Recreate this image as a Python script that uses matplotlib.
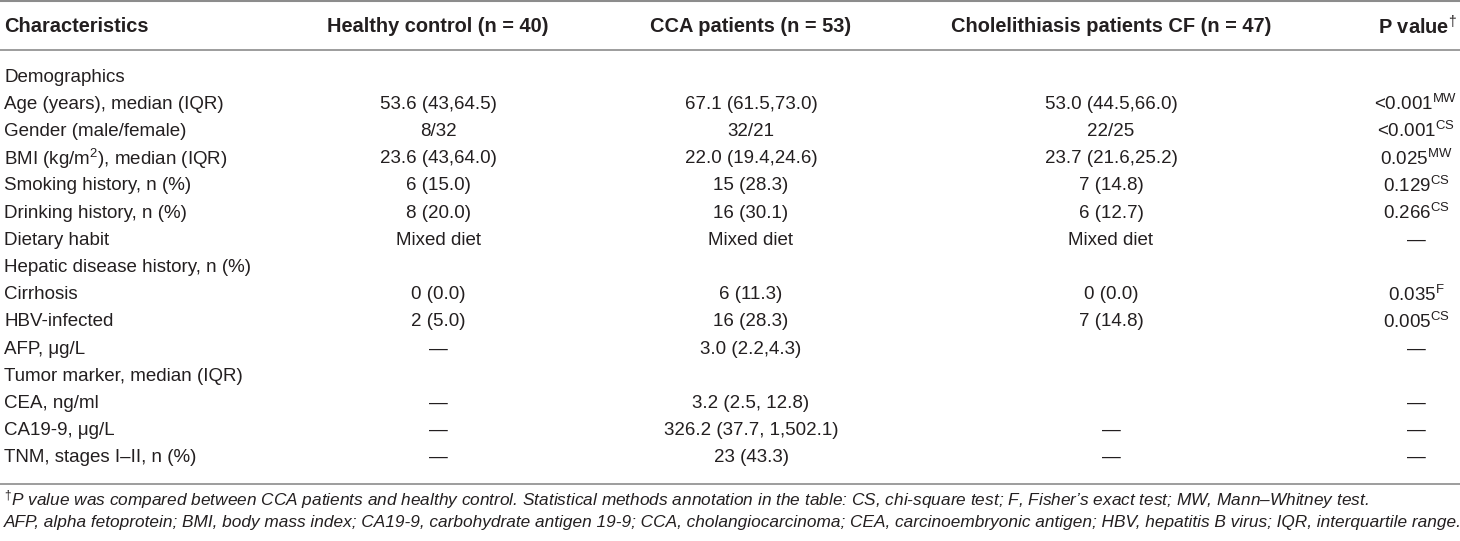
import matplotlib.pyplot as plt

plt.rcParams["font.family"] = ["Liberation Sans", "DejaVu Sans"]
plt.rcParams["mathtext.fontset"] = "custom"
plt.rcParams["mathtext.rm"] = "Liberation Sans"
plt.rcParams["mathtext.it"] = "Liberation Sans:italic"
plt.rcParams["mathtext.bf"] = "Liberation Sans:bold"
plt.rcParams["mathtext.default"] = "rm"

headers = ["Characteristics", "Healthy control (n = 40)", "CCA patients (n = 53)",
           "Cholelithiasis patients CF (n = 47)", "P value$^{†}$"]

characteristics = [
    "Demographics",
    "Age (years), median (IQR)",
    "Gender (male/female)",
    "BMI (kg/m$^{2}$), median (IQR)",
    "Smoking history, n (%)",
    "Drinking history, n (%)",
    "Dietary habit",
    "Hepatic disease history, n (%)",
    "Cirrhosis",
    "HBV-infected",
    "AFP, μg/L",
    "Tumor marker, median (IQR)",
    "CEA, ng/ml",
    "CA19-9, μg/L",
    "TNM, stages I–II, n (%)",
]
healthy = ["", "53.6 (43,64.5)", "8/32", "23.6 (43,64.0)", "6 (15.0)", "8 (20.0)",
           "Mixed diet", "", "0 (0.0)", "2 (5.0)", "—", "", "—", "—", "—"]
cca = ["", "67.1 (61.5,73.0)", "32/21", "22.0 (19.4,24.6)", "15 (28.3)", "16 (30.1)",
       "Mixed diet", "", "6 (11.3)", "16 (28.3)", "3.0 (2.2,4.3)", "",
       "3.2 (2.5, 12.8)", "326.2 (37.7, 1,502.1)", "23 (43.3)"]
chole = ["", "53.0 (44.5,66.0)", "22/25", "23.7 (21.6,25.2)", "7 (14.8)", "6 (12.7)",
         "Mixed diet", "", "0 (0.0)", "7 (14.8)", "", "", "", "—", "—"]
pvals = ["", "<0.001", "<0.001", "0.025", "0.129", "0.266", "—", "", "0.035", "0.005",
         "—", "", "—", "—", "—"]
ptests = ["", "MW", "CS", "MW", "CS", "CS", "", "", "F", "CS", "", "", "", "", ""]

footnotes = [
    "$^{†}$P value was compared between CCA patients and healthy control. Statistical methods "
    "annotation in the table: CS, chi-square test; F, Fisher’s exact test; MW, Mann–Whitney test.",
    "AFP, alpha fetoprotein; BMI, body mass index; CA19-9, carbohydrate antigen 19-9; CCA, "
    "cholangiocarcinoma; CEA, carcinoembryonic antigen; HBV, hepatitis B virus; IQR, interquartile range.",
]

txt = "#231f20"
rule = "#8c8c8c"
fs = 13.5
fs_head = 14.4

fig = plt.figure(figsize=(14.6, 5.41), dpi=100)
ax = fig.add_axes([0, 0, 1, 1])
ax.set_xlim(0, 1460)
ax.set_ylim(541, 0)
ax.axis("off")

col_x = [4, 438, 751, 1111, 1416]

# rules
ax.axhline(1, color=rule, lw=1.5)
ax.axhline(50, color=rule, lw=1.2)
ax.axhline(484, color=rule, lw=1.2)

# header
ax.text(col_x[0], 27, headers[0], ha="left", va="center", fontsize=fs_head,
        weight="bold", color=txt)
for i in (1, 2, 3):
    ax.text(col_x[i], 27, headers[i], ha="center", va="center", fontsize=fs_head,
            weight="bold", color=txt)
ax.text(1457, 27, headers[4], ha="right", va="center", fontsize=fs_head,
        weight="bold", color=txt)

# body
y0, dy = 77, 27.2
for r in range(len(characteristics)):
    y = y0 + r * dy
    ax.text(col_x[0], y, characteristics[r], ha="left", va="center", fontsize=fs, color=txt)
    ax.text(col_x[1], y, healthy[r], ha="center", va="center", fontsize=fs, color=txt)
    ax.text(col_x[2], y, cca[r], ha="center", va="center", fontsize=fs, color=txt)
    ax.text(col_x[3], y, chole[r], ha="center", va="center", fontsize=fs, color=txt)
    p = pvals[r]
    if ptests[r]:
        p = p + "$^{\\mathrm{" + ptests[r] + "}}$"
    ax.text(col_x[4], y, p, ha="center", va="center", fontsize=fs, color=txt)

# footnotes
for k, line in enumerate(footnotes):
    ax.text(col_x[0], 500 + k * 23, line, ha="left", va="center", fontsize=12.4,
            style="italic", color=txt)

fig.savefig("out.png", dpi=100)
